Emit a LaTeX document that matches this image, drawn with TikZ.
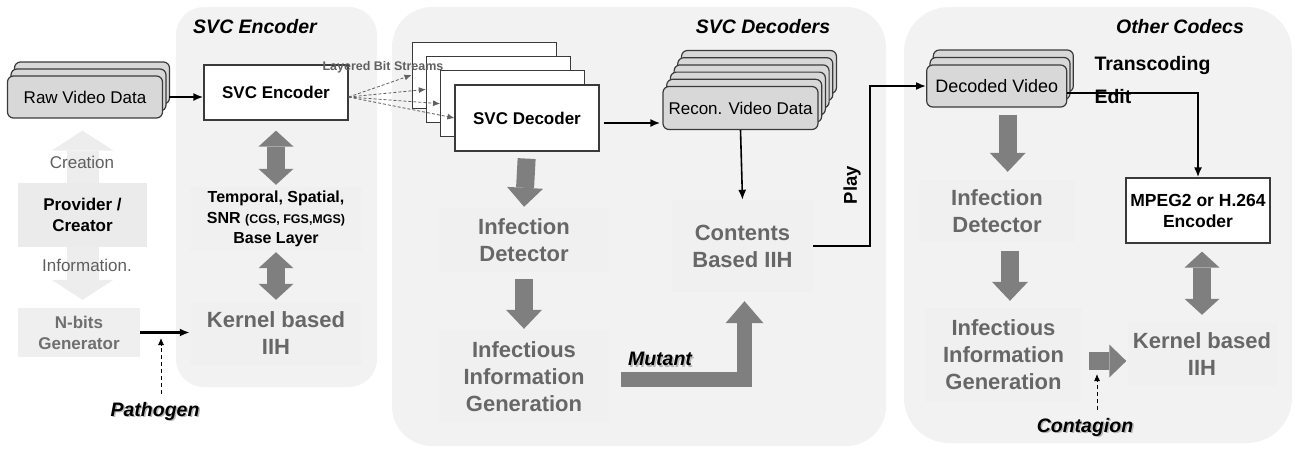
\documentclass[tikz,border=0pt]{standalone}
\usepackage{fontspec}
\setmainfont{Liberation Sans}
\usetikzlibrary{arrows.meta,calc}

\definecolor{panel}{HTML}{F2F2F2}
\definecolor{subtle}{HTML}{F0F0F0}
\definecolor{fatgray}{HTML}{7F7F7F}
\definecolor{txtgray}{HTML}{676767}
\definecolor{softtxt}{HTML}{5E5E5E}
\definecolor{palearrow}{HTML}{EDEDED}
\definecolor{provfill}{HTML}{EBEBEB}
\definecolor{nbitsfill}{HTML}{EFEFEF}
\definecolor{vidfill}{HTML}{D8D8D8}
\definecolor{edge}{HTML}{3A3A3A}
\definecolor{streamgray}{HTML}{606060}

\newcommand{\fsz}[2]{\fontsize{#1}{#2}\selectfont}

\begin{document}
\begin{tikzpicture}[x=1pt,y=-1pt,
  panelbg/.style={fill=panel},
  vid/.style={draw=edge, fill=vidfill, line width=1.2pt, rounded corners=6pt,
    inner sep=0pt, font=\fsz{17}{20}},
  whitebox/.style={draw=edge, fill=white, line width=1.2pt, inner sep=0pt,
    align=center},
  block/.style={fill=subtle, inner sep=0pt, align=center, text=txtgray,
    font=\bfseries\fsz{22}{27}},
  conn/.style={draw=black, line width=2.4pt, -{Latex[length=10pt,width=8pt]}},
  dashconn/.style={draw=black, line width=0.9pt, dash pattern=on 4pt off 3pt,
    -{Latex[length=7pt,width=6pt]}},
  streamconn/.style={draw=streamgray, line width=0.8pt, dash pattern=on 3pt off 2pt,
    -{Latex[length=7pt,width=6pt]}},
  fatdown/.style={draw=fatgray, line width=18pt,
    -{Triangle[length=19pt,width=36pt,line width=0pt]}},
  fatboth/.style={draw=fatgray, line width=18pt,
    {Triangle[length=16pt,width=35pt,line width=0pt]}-{Triangle[length=16pt,width=35pt,line width=0pt]}},
  palearrow/.style={draw=palearrow, line width=32pt,
    -{Triangle[length=20pt,width=62pt,line width=0pt]}},
  title/.style={font=\bfseries\itshape\fsz{19.5}{22}},
  tag/.style={font=\bfseries\itshape\fsz{19.5}{22}, inner sep=0pt},
  tagshade/.style={font=\bfseries\itshape\fsz{19.5}{22}, inner sep=0pt, text=black!28}
]
\useasboundingbox (0,0) rectangle (1295,448);

% --- background panels ---
\fill[panelbg, rounded corners=28pt] (176,7) rectangle (377,387);
\fill[panelbg, rounded corners=40pt] (392,7) rectangle (886,446);
\fill[panelbg, rounded corners=45pt] (904,7) rectangle (1292,443);

\node[title] (tEnc) at (255,27) {SVC Encoder};
\node[title] (tDec) at (763,27) {SVC Decoders};
\node[title] (tOth) at (1180,27) {Other Codecs};

% --- provider column ---
\node[fill=provfill, inner sep=0pt, minimum width=129pt, minimum height=64pt,
  align=center, font=\bfseries\fsz{17}{21}] (prov) at (82.5,215) {Provider /\\Creator};
\node[fill=nbitsfill, inner sep=0pt, minimum width=122pt, minimum height=49pt,
  align=center, text=txtgray!95, font=\bfseries\fsz{17}{21}] (nbits) at (79,332.5) {N-bits\\Generator};

% raw video stack
\foreach \i in {2,1}
  \node[vid, minimum width=155pt, minimum height=42pt] (raw\i) at ($(85,97)+(3.5*\i,-7*\i)$) {};
\node[vid, minimum width=155pt, minimum height=42pt] (raw) at (85,97) {Raw Video Data};

\draw[palearrow, shorten >=12pt] (prov.north) -- (prov.north |- raw.south);
\draw[palearrow, shorten >=8pt] (prov.south) -- (prov.south |- nbits.north);
\node[text=softtxt, font=\fsz{17}{20}] (creation) at (82,162) {Creation};
\node[text=softtxt, font=\fsz{17}{20}] (information) at (87,265) {Information.};

% --- SVC encoder panel ---
\node[whitebox, minimum width=144pt, minimum height=55pt, font=\bfseries\fsz{17}{20}]
  (enc) at (276,92.5) {SVC Encoder};
\node[block, text=black, minimum width=172pt, minimum height=64pt, font=\bfseries\fsz{16}{20.5}]
  (layers) at (276,219) {Temporal, Spatial,\\SNR {\fsz{12.5}{14}(CGS, FGS,MGS)}\\Base Layer};
\node[block, minimum width=172pt, minimum height=63pt] (kern) at (276,333.5) {Kernel based\\IIH};

\draw[fatboth, shorten <=10pt, shorten >=2pt] (enc.south) -- (layers.north);
\draw[fatboth, shorten <=1pt, shorten >=2pt] (layers.south) -- (kern.north);

\draw[conn, shorten <=6pt] (raw.east) -- (raw.east -| enc.west);
\draw[conn] (nbits.east) -- (nbits.east -| kern.west);

\coordinate (ptip) at (161,338);
\node[tagshade] (pathogenS) at (156.5,412.5) {Pathogen};
\node[tag] (pathogen) at (155,411) {Pathogen};
\draw[dashconn, shorten <=8pt] (pathogen.north -| ptip) -- (ptip);

% --- SVC decoders panel ---
\foreach \i in {3,2,1}
  \node[whitebox, minimum width=144pt, minimum height=66pt] (dec\i) at ($(527,118)+(-14.3*\i,-14.3*\i)$) {};
\node[whitebox, minimum width=144pt, minimum height=66pt, font=\bfseries\fsz{17}{20}]
  (dec0) at (527,118) {SVC Decoder};

\coordinate (encout) at ([yshift=-4.5pt]enc.east);
\foreach \i in {3,2,1,0}
  \draw[streamconn] (encout) -- (dec\i.west);
\node[text=streamgray, font=\bfseries\fsz{12.5}{14}] (streams) at (383,67) {Layered Bit Streams};

\foreach \i in {5,4,3,2,1}
  \node[vid, minimum width=155pt, minimum height=43pt] (recon\i) at ($(740.5,108)+(3.7*\i,-7.2*\i)$) {};
\node[vid, minimum width=155pt, minimum height=43pt] (recon) at (740.5,108) {Recon. Video Data};

\draw[conn, shorten <=4pt, shorten >=2pt] ([yshift=-5pt]dec0.east) -- ([yshift=-5pt]dec0.east -| recon.west);

\node[block, minimum width=141pt, minimum height=92pt] (cont) at (742.5,246) {Contents\\Based IIH};
\draw[conn, line width=1.6pt] (recon.south) -- (cont.north);

\node[block, minimum width=172pt, minimum height=64pt] (det) at (524,240) {Infection\\Detector};
\node[block, minimum width=172pt, minimum height=93pt] (gen) at (524,376.5) {Infectious\\Information\\Generation};

\draw[fatdown, shorten <=7pt, shorten >=1pt] (dec0.south) -- (det.north);
\draw[fatdown, shorten <=7pt, shorten >=1pt] (det.south) -- (gen.north);

\draw[draw=fatgray, line width=15pt, line join=miter,
  -{Triangle[length=22pt,width=38pt,line width=0pt]}, shorten >=9pt]
  ([xshift=11pt,yshift=-3pt]gen.east) -| ([xshift=2pt]cont.south);
\node[tagshade] (mutantS) at (661.5,360.5) {Mutant};
\node[tag] (mutant) at (660,359) {Mutant};

% --- other codecs panel ---
\foreach \i in {2,1}
  \node[vid, minimum width=140pt, minimum height=42pt] (decd\i) at ($(996.7,86)+(3.3*\i,-7.5*\i)$) {};
\node[vid, minimum width=140pt, minimum height=42pt, font=\fsz{18}{20}] (decd) at (996.7,86) {Decoded Video};

\coordinate (playbend) at (870,0);
\draw[conn] (cont.east) -| (playbend |- decd.west) -- (decd.west);
\node[rotate=90, font=\bfseries\fsz{18.5}{20}] (play) at (852,185) {Play};

\node[whitebox, minimum width=144pt, minimum height=65pt, font=\bfseries\fsz{17.5}{21}]
  (mpeg) at (1198,210.5) {MPEG2 or H.264\\Encoder};
\draw[conn] ([yshift=-7pt]decd.east) -| (mpeg.north);
\node[anchor=west, font=\bfseries\fsz{19.5}{22}] (transc) at (1091,65) {Transcoding};
\node[anchor=west, font=\bfseries\fsz{19.5}{22}] (edit) at (1091,97) {Edit};

\node[block, minimum width=156pt, minimum height=62pt] (det2) at (997,211) {Infection\\Detector};
\node[block, minimum width=157pt, minimum height=94pt] (gen2) at (1003.5,355) {Infectious\\Information\\Generation};
\node[block, minimum width=149pt, minimum height=64pt] (kern2) at (1202,354) {Kernel based\\IIH};

\draw[fatdown, shorten <=7pt, shorten >=8pt] ([xshift=11pt]decd.south) -- ([xshift=11pt]decd.south |- det2.north);
\draw[fatdown, shorten <=9pt, shorten >=7pt] ([xshift=13pt]det2.south) -- ([xshift=13pt]det2.south |- gen2.north);
\draw[fatboth, shorten <=8pt, shorten >=7pt] (kern2.north |- mpeg.south) -- (kern2.north);
\draw[draw=fatgray, line width=18pt,
  -{Triangle[length=17pt,width=33pt,line width=0pt]}, shorten <=7pt, shorten >=1pt]
  ([yshift=-6pt]gen2.east) -- ([yshift=-6pt]gen2.east -| kern2.west);

\coordinate (ctip) at (1097,374);
\node[tagshade] (contagionS) at (1086.5,428.5) {Contagion};
\node[tag] (contagion) at (1085,427) {Contagion};
\draw[dashconn, shorten <=8pt] (contagion.north -| ctip) -- (ctip);

\end{tikzpicture}
\end{document}
